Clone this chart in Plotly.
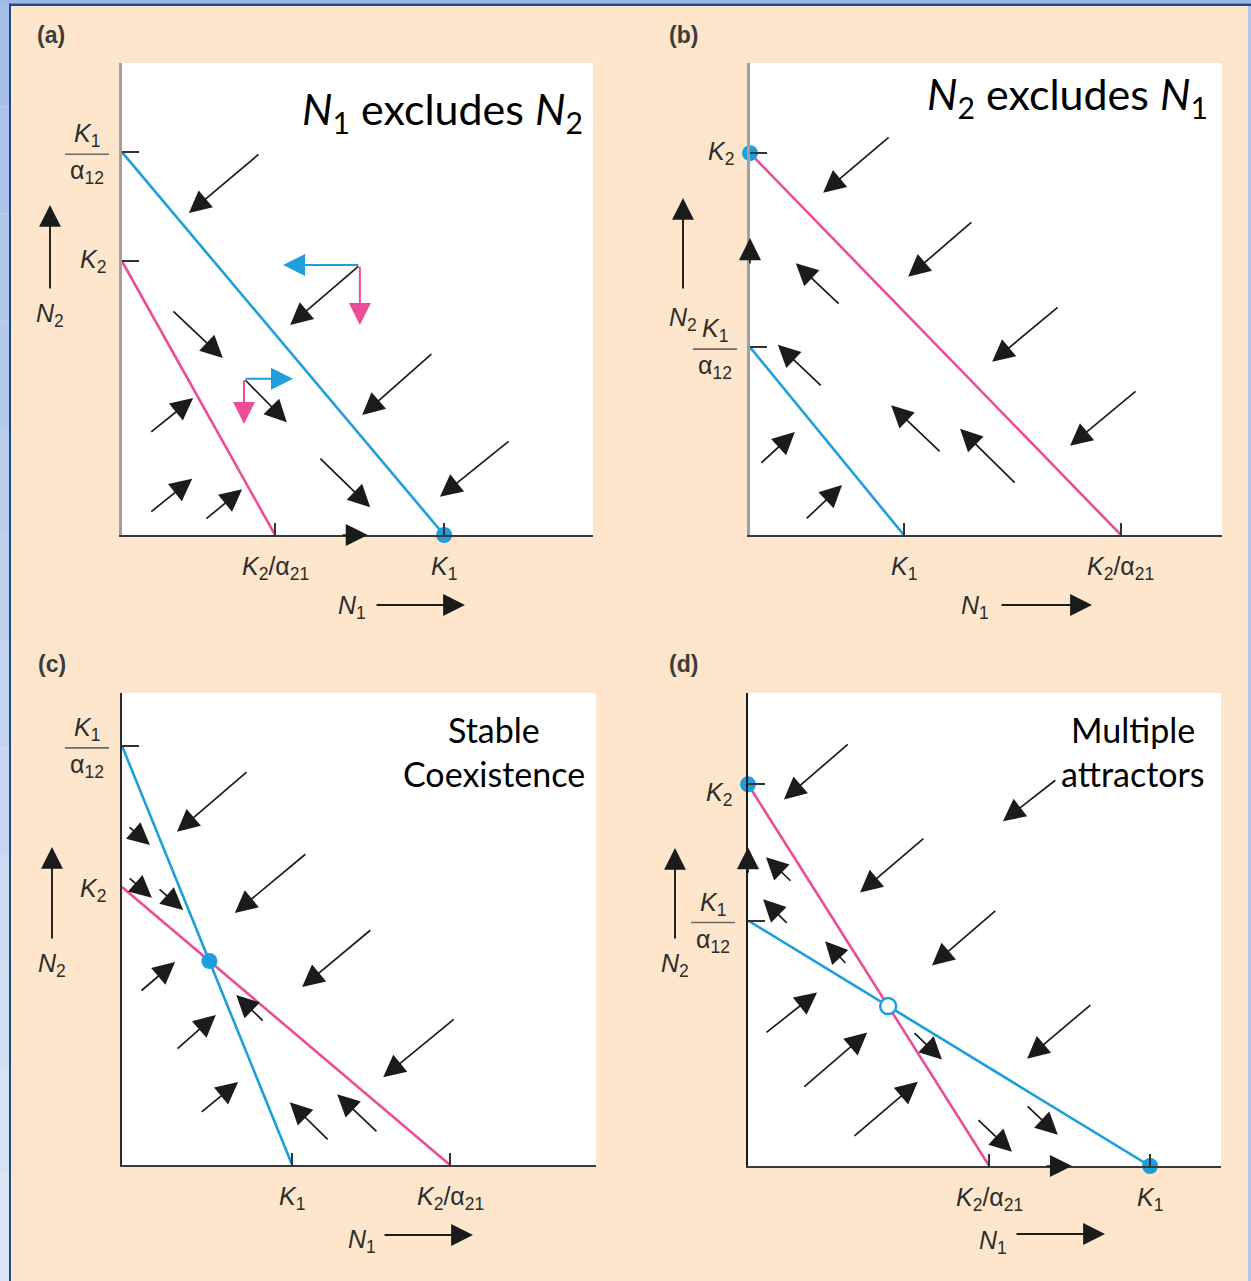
import plotly.graph_objects as go

W, H = 1251, 1281

# ====================== DATA ======================
# Axes of every panel run 0-100 (% of the drawn N1 / N2 span).
# Isocline intercepts: [intercept on N2 axis, intercept on N1 axis]
a_iso_N1 = [81.1, 68.4]   # K1/a12 , K1
a_iso_N2 = [58.0, 32.5]   # K2 , K2/a21
b_iso_N1 = [39.8, 32.6]
b_iso_N2 = [80.9, 78.6]
c_iso_N1 = [88.8, 35.9]
c_iso_N2 = [58.9, 69.2]
d_iso_N1 = [51.9, 85.0]
d_iso_N2 = [80.7, 51.0]

# equilibria: 'N1' = (K1,0), 'N2' = (0,K2), 'mix' = isocline crossing
a_stable = ['N1']
b_stable = ['N2']
c_stable = ['mix']
d_stable = ['N2', 'N1']
d_unstable = ['mix']

# trajectory arrows, tail (x0, y0) -> head (x1, y1)
a_x0 = [29.3, 50.5, 10.6, 25.9, 5.9, 66.0, 41.8, 5.9, 17.6, 82.4]
a_y0 = [80.9, 57.2, 47.7, 33.1, 21.6, 38.6, 16.5, 4.7, 3.2, 20.1]
a_x1 = [14.2, 35.7, 21.4, 35.0, 15.1, 51.0, 52.7, 14.9, 25.5, 67.5]
a_y1 = [68.2, 44.5, 37.5, 23.9, 29.0, 25.4, 5.9, 11.9, 9.7, 8.1]

b_x0 = [29.7, 47.2, 19.1, 15.3, 65.5, 82.0, 40.5, 56.4, 2.1, 11.7]
b_y0 = [84.5, 66.5, 48.7, 31.4, 48.5, 30.7, 17.4, 10.8, 15.0, 3.2]
b_x1 = [15.5, 33.5, 9.7, 5.9, 51.3, 67.8, 29.9, 44.5, 9.5, 19.5]
b_y1 = [72.5, 54.7, 57.6, 40.3, 36.7, 18.9, 27.5, 22.5, 21.8, 10.6]

c_x0 = [26.6, 1.3, 1.3, 7.6, 39.0, 3.8, 52.7, 30.0, 11.4, 16.5, 70.3, 43.7, 54.0]
c_y0 = [83.5, 71.8, 61.0, 58.7, 66.1, 36.7, 50.0, 30.3, 24.4, 11.0, 31.1, 5.1, 6.8]
c_x1 = [11.6, 5.9, 6.3, 12.9, 23.8, 11.2, 38.0, 24.1, 19.8, 24.5, 55.1, 35.4, 45.4]
c_y1 = [70.6, 67.8, 56.6, 54.0, 53.4, 43.0, 37.7, 36.0, 31.8, 17.6, 18.6, 13.3, 15.0]

d_x0 = [21.4, 37.4, 9.3, 8.5, 20.9, 52.6, 72.7, 34.9, 65.3, 3.6, 11.6, 22.2, 48.4, 58.8]
d_y0 = [89.4, 69.5, 60.0, 51.1, 42.6, 54.2, 34.3, 28.4, 81.8, 28.0, 16.5, 6.1, 10.0, 12.9]
d_x1 = [7.6, 23.7, 3.8, 3.2, 16.3, 38.9, 59.0, 41.0, 53.9, 14.6, 25.2, 35.9, 55.8, 65.5]
d_y1 = [77.5, 57.8, 65.3, 56.4, 47.5, 42.4, 22.7, 22.5, 72.9, 36.7, 28.2, 17.8, 3.0, 6.6]

# component arrows of panel (a): dN1 (blue) and dN2 (pink)
a_comp_x0 = [50.5, 50.5, 25.9, 25.9]
a_comp_y0 = [57.2, 57.2, 33.1, 33.1]
a_comp_x1 = [34.2, 50.5, 36.3, 25.9]
a_comp_y1 = [57.2, 44.5, 33.1, 23.5]
a_comp_species = ['N1', 'N2', 'N1', 'N2']

# arrows sitting on the axes
a_axis_x0, a_axis_y0, a_axis_x1, a_axis_y1 = [46.5], [0.0], [52.2], [0.0]
b_axis_x0, b_axis_y0, b_axis_x1, b_axis_y1 = [0.0], [57.2], [0.0], [62.9]
c_axis_x0, c_axis_y0, c_axis_x1, c_axis_y1 = [], [], [], []
d_axis_x0, d_axis_y0, d_axis_x1, d_axis_y1 = [0.0, 62.8], [61.7, 0.0], [0.0, 68.5], [67.4, 0.0]

# text
lbl_K1 = "<i>K</i><sub>1</sub>"
lbl_K2 = "<i>K</i><sub>2</sub>"
lbl_K2a21 = "<i>K</i><sub>2</sub>/α<sub>21</sub>"
lbl_a12 = "α<sub>12</sub>"
lbl_N1 = "<i>N</i><sub>1</sub>"
lbl_N2 = "<i>N</i><sub>2</sub>"
a_title = ["<i>N</i><sub>1</sub> excludes <i>N</i><sub>2</sub>"]
b_title = ["<i>N</i><sub>2</sub> excludes <i>N</i><sub>1</sub>"]
c_title = ["Stable", "Coexistence"]
d_title = ["Multiple", "attractors"]
letters = ["(a)", "(b)", "(c)", "(d)"]

# ====================== STYLE / LAYOUT ======================
BLUE = "#1E9FDC"
PINK = "#EC4C98"
BLACK = "#1b1b1b"
TXT = "#2d2d2d"
PEACH = "#FDE6CC"
LFONT = "Liberation Sans, Arial, sans-serif"
TFONT = "Lato, Open Sans, sans-serif"
LSIZE = 25

panels = [
    dict(box=(122, 63, 593, 535), iso1=a_iso_N1, iso2=a_iso_N2, stable=a_stable, unstable=[],
         arr=(a_x0, a_y0, a_x1, a_y1), axarr=(a_axis_x0, a_axis_y0, a_axis_x1, a_axis_y1),
         yline="#a0a0a0", ylw=3, xline="#3a3a3a", show_k2tick=True, k2shift=0,
         title=a_title, title_pos=[(585, 112)], title_anchor="right", title_size=43,
         letter=(51, 35), n2arrow=(-72, 142, 227), n2text=252, n1=(230, 253, 343, 72, 70)),
    dict(box=(750, 63, 1222, 535), iso1=b_iso_N1, iso2=b_iso_N2, stable=b_stable, unstable=[],
         arr=(b_x0, b_y0, b_x1, b_y1), axarr=(b_axis_x0, b_axis_y0, b_axis_x1, b_axis_y1),
         yline="#a0a0a0", ylw=3, xline="#3a3a3a", show_k2tick=True, k2shift=0,
         title=b_title, title_pos=[(1210, 97)], title_anchor="right", title_size=43,
         letter=(683, 35), n2arrow=(-67, 135, 227), n2text=256, n1=(225, 250, 342, 72, 70)),
    dict(box=(122, 693, 596, 1165), iso1=c_iso_N1, iso2=c_iso_N2, stable=c_stable, unstable=[],
         arr=(c_x0, c_y0, c_x1, c_y1), axarr=(c_axis_x0, c_axis_y0, c_axis_x1, c_axis_y1),
         yline="#2a2a2a", ylw=2, xline="#3a3a3a", show_k2tick=False, k2shift=-3,
         title=c_title, title_pos=[(494, 729), (494, 773)], title_anchor="center", title_size=34,
         letter=(52, 664), n2arrow=(-70, 154, 247), n2text=272, n1=(240, 261, 351, 76, 70)),
    dict(box=(748, 693, 1221, 1166), iso1=d_iso_N1, iso2=d_iso_N2, stable=d_stable, unstable=d_unstable,
         arr=(d_x0, d_y0, d_x1, d_y1), axarr=(d_axis_x0, d_axis_y0, d_axis_x1, d_axis_y1),
         yline="#1a1a1a", ylw=2, xline="#3a3a3a", show_k2tick=True, k2shift=-10,
         title=d_title, title_pos=[(1133, 729), (1133, 773)], title_anchor="center", title_size=34,
         letter=(683, 664), n2arrow=(-73, 155, 247), n2text=272, n1=(245, 267, 357, 76, 68)),
]

fig = go.Figure()
annotations = []
shapes = []


def crossing(i1, i2):
    a1, b1 = i1
    a2, b2 = i2
    x = (a1 - a2) / (a1 / b1 - a2 / b2)
    return x, a1 * (1 - x / b1)


def arrow(xr, yr, x0, y0, x1, y1, color, width=1.7, size=2.6):
    return dict(xref=xr, yref=yr, axref=xr, ayref=yr, x=x1, y=y1, ax=x0, ay=y0,
                text="", showarrow=True, arrowhead=2, arrowsize=size, arrowwidth=width,
                arrowcolor=color, standoff=0, startstandoff=0)


for i, p in enumerate(panels):
    n = "" if i == 0 else str(i + 1)
    xr, yr = "x" + n, "y" + n
    L, T, R, B = p["box"]
    iso1, iso2 = p["iso1"], p["iso2"]
    yt = [iso1[0]] + ([iso2[0]] if p["show_k2tick"] else [])
    fig.update_layout({
        "xaxis" + n: dict(domain=[L / W, R / W], range=[0, 100], anchor=yr, showgrid=False,
                          zeroline=False, showticklabels=False, ticks="inside", ticklen=12,
                          tickwidth=1.6, tickcolor="#333333", tickvals=[iso1[1], iso2[1]],
                          showline=True, linecolor=p["xline"], linewidth=2, fixedrange=True),
        "yaxis" + n: dict(domain=[1 - B / H, 1 - T / H], range=[0, 100], anchor=xr, showgrid=False,
                          zeroline=False, showticklabels=False, ticks="inside", ticklen=17,
                          tickwidth=1.6, tickcolor="#333333", tickvals=yt,
                          showline=True, linecolor=p["yline"], linewidth=p["ylw"], fixedrange=True),
    })
    # isoclines
    fig.add_trace(go.Scatter(x=[0, iso1[1]], y=[iso1[0], 0], mode="lines", xaxis=xr, yaxis=yr,
                             line=dict(color=BLUE, width=2.6), showlegend=False, hoverinfo="skip"))
    fig.add_trace(go.Scatter(x=[0, iso2[1]], y=[iso2[0], 0], mode="lines", xaxis=xr, yaxis=yr,
                             line=dict(color=PINK, width=2.6), showlegend=False, hoverinfo="skip"))

    def eq_point(k):
        if k == "N1":
            return iso1[1], 0
        if k == "N2":
            return 0, iso2[0]
        return crossing(iso1, iso2)

    if p["stable"]:
        pts = [eq_point(k) for k in p["stable"]]
        fig.add_trace(go.Scatter(x=[q[0] for q in pts], y=[q[1] for q in pts], mode="markers",
                                 xaxis=xr, yaxis=yr, cliponaxis=False,
                                 marker=dict(size=16, color=BLUE, line=dict(width=0)),
                                 showlegend=False, hoverinfo="skip"))
    if p["unstable"]:
        pts = [eq_point(k) for k in p["unstable"]]
        fig.add_trace(go.Scatter(x=[q[0] for q in pts], y=[q[1] for q in pts], mode="markers",
                                 xaxis=xr, yaxis=yr, cliponaxis=False,
                                 marker=dict(size=16, color="white", line=dict(width=2.5, color=BLUE)),
                                 showlegend=False, hoverinfo="skip"))

    # trajectory arrows
    X0, Y0, X1, Y1 = p["arr"]
    for k in range(len(X0)):
        annotations.append(arrow(xr, yr, X0[k], Y0[k], X1[k], Y1[k], BLACK))
    X0, Y0, X1, Y1 = p["axarr"]
    for k in range(len(X0)):
        annotations.append(arrow(xr, yr, X0[k], Y0[k], X1[k], Y1[k], BLACK))

    # x tick labels
    for val, txt in [(iso1[1], lbl_K1), (iso2[1], lbl_K2a21)]:
        annotations.append(dict(xref=xr, yref=yr, x=val, y=0, yshift=-33, text=txt, showarrow=False,
                                xanchor="center", yanchor="middle",
                                font=dict(family=LFONT, size=LSIZE, color=TXT)))
    # y tick labels: fraction K1/a12 and K2
    annotations.append(dict(xref=xr, yref=yr, x=0, y=iso1[0], xshift=-35, yshift=17, text=lbl_K1,
                            showarrow=False, xanchor="center", yanchor="middle",
                            font=dict(family=LFONT, size=LSIZE, color=TXT)))
    annotations.append(dict(xref=xr, yref=yr, x=0, y=iso1[0], xshift=-35, yshift=-20, text=lbl_a12,
                            showarrow=False, xanchor="center", yanchor="middle",
                            font=dict(family=LFONT, size=LSIZE, color=TXT)))
    # fraction bar (placed in page coordinates next to the tick)
    ypix = B - iso1[0] / 100.0 * (B - T) + 2
    shapes.append(dict(type="line", xref="paper", yref="paper", x0=(L - 57) / W, x1=(L - 13) / W,
                       y0=1 - ypix / H, y1=1 - ypix / H, line=dict(color="#6a6a6a", width=1.6)))
    annotations.append(dict(xref=xr, yref=yr, x=0, y=iso2[0], xshift=-14, yshift=p["k2shift"],
                            text=lbl_K2, showarrow=False, xanchor="right", yanchor="middle",
                            font=dict(family=LFONT, size=LSIZE, color=TXT)))

    # axis-name arrows
    dx, tip, tail = p["n2arrow"]
    annotations.append(dict(xref="paper", yref="paper", x=(L + dx) / W, y=1 - (T + tip) / H,
                            ax=0, ay=tail - tip, text="", showarrow=True, arrowhead=2,
                            arrowsize=2.3, arrowwidth=1.9, arrowcolor=BLACK, standoff=0))
    annotations.append(dict(xref="paper", yref="paper", x=(L + dx) / W, y=1 - (T + p["n2text"]) / H,
                            text=lbl_N2, showarrow=False, xanchor="center", yanchor="middle",
                            font=dict(family=LFONT, size=LSIZE, color=TXT)))
    tx, a0, a1, ty, ay_ = p["n1"]
    annotations.append(dict(xref="paper", yref="paper", x=(L + a1) / W, y=1 - (B + ay_) / H,
                            ax=-(a1 - a0), ay=0, text="", showarrow=True, arrowhead=2,
                            arrowsize=2.3, arrowwidth=1.9, arrowcolor=BLACK, standoff=0))
    annotations.append(dict(xref="paper", yref="paper", x=(L + tx) / W, y=1 - (B + ty) / H,
                            text=lbl_N1, showarrow=False, xanchor="center", yanchor="middle",
                            font=dict(family=LFONT, size=LSIZE, color=TXT)))

    # panel letter
    lx, ly = p["letter"]
    annotations.append(dict(xref="paper", yref="paper", x=lx / W, y=1 - ly / H, text="<b>%s</b>" % letters[i],
                            showarrow=False, xanchor="center", yanchor="middle",
                            font=dict(family=LFONT, size=23, color="#3c3c3c")))
    # title
    for line_txt, (tx_, ty_) in zip(p["title"], p["title_pos"]):
        annotations.append(dict(xref="paper", yref="paper", x=tx_ / W, y=1 - ty_ / H, text=line_txt,
                                showarrow=False, xanchor=p["title_anchor"], yanchor="middle",
                                font=dict(family=TFONT, size=p["title_size"], color="#000000")))

# component arrows in (a)
for k in range(len(a_comp_x0)):
    col = BLUE if a_comp_species[k] == "N1" else PINK
    annotations.append(arrow("x", "y", a_comp_x0[k], a_comp_y0[k], a_comp_x1[k], a_comp_y1[k], col,
                             width=2.0, size=2.2))

# slide frame
def hexmix(c1, c2, t):
    a = [int(c1[j:j + 2], 16) for j in (1, 3, 5)]
    b = [int(c2[j:j + 2], 16) for j in (1, 3, 5)]
    return "#%02X%02X%02X" % tuple(round(a[j] + (b[j] - a[j]) * t) for j in range(3))

nb = 12
for k in range(nb):
    shapes.append(dict(type="rect", xref="paper", yref="paper", x0=0, x1=9 / W,
                       y0=1 - (k + 1) / nb, y1=1 - k / nb, line=dict(width=0),
                       fillcolor=hexmix("#A6BFE8", "#DCE5F6", k / (nb - 1))))
shapes.append(dict(type="rect", xref="paper", yref="paper", x0=0, x1=1, y0=1 - 3.5 / H, y1=1,
                   line=dict(width=0), fillcolor="#9DB9E6"))
shapes.append(dict(type="rect", xref="paper", yref="paper", x0=9 / W, x1=1, y0=1 - 6 / H, y1=1 - 3.5 / H,
                   line=dict(width=0), fillcolor="#1F4A85"))
shapes.append(dict(type="rect", xref="paper", yref="paper", x0=9 / W, x1=11 / W, y0=0, y1=1 - 3.5 / H,
                   line=dict(width=0), fillcolor="#1F4A85"))
shapes.append(dict(type="rect", xref="paper", yref="paper", x0=1248 / W, x1=1, y0=0, y1=1 - 6 / H,
                   line=dict(width=0), fillcolor="#AFC6EA"))

fig.update_layout(width=W, height=H, margin=dict(l=0, r=0, t=0, b=0), autosize=False,
                  paper_bgcolor=PEACH, plot_bgcolor="white", showlegend=False,
                  annotations=annotations, shapes=shapes)
fig.write_html("out.html", config={"displayModeBar": False},
               post_script="document.body.style.margin='0';document.body.style.padding='0';"
                           "document.body.style.overflow='hidden';")
